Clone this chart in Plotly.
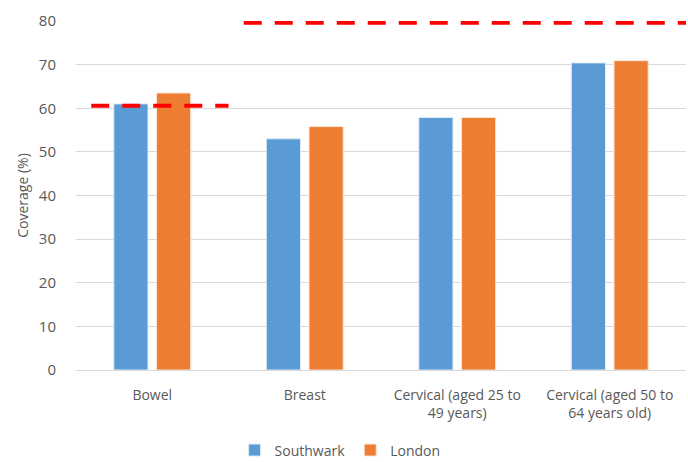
import plotly.graph_objects as go

categories = ["Bowel", "Breast", "Cervical (aged 25 to<br>49 years)", "Cervical (aged 50 to<br>64 years old)"]
southwark = [61.0, 53.0, 57.9, 70.4]
london = [63.5, 55.8, 57.9, 70.9]
target_bowel_x = [-0.4, 0.5]
target_bowel_y = [60.6, 60.6]
target_other_x = [0.6, 3.5]
target_other_y = [79.6, 79.6]
yticks = [0, 10, 20, 30, 40, 50, 60, 70, 80]

font = dict(family="Open Sans, Liberation Sans, sans-serif", size=14, color="#595959")

fig = go.Figure()
fig.add_trace(go.Bar(name="Southwark", x=categories, y=southwark,
                     marker=dict(color="#5B9BD5", line=dict(color="#DDEBF7", width=1))))
fig.add_trace(go.Bar(name="London", x=categories, y=london,
                     marker=dict(color="#ED7D31", line=dict(color="#FBE5D6", width=1))))
for xs, ys in [(target_bowel_x, target_bowel_y), (target_other_x, target_other_y)]:
    fig.add_trace(go.Scatter(x=xs, y=ys, xaxis="x2", mode="lines", showlegend=False,
                             line=dict(color="#FF0000", width=4, dash="18px,13px"),
                             hoverinfo="skip"))

fig.update_layout(
    width=688, height=462,
    margin=dict(l=76, r=2, t=21, b=92, autoexpand=False),
    plot_bgcolor="white", paper_bgcolor="white",
    font=font,
    barmode="group", bargap=0.44, bargroupgap=0.2,
    xaxis=dict(type="category", showgrid=False, showline=True, linecolor="#D9D9D9",
               ticks="outside", ticklen=12, tickcolor="rgba(0,0,0,0)",
               tickfont=dict(size=14), range=[-0.5, 3.5], automargin=False),
    xaxis2=dict(overlaying="x", range=[-0.5, 3.5], visible=False),
    yaxis=dict(range=[0, 80], tickvals=yticks, showgrid=True, gridcolor="#D9D9D9",
               zeroline=False, showline=False, tickfont=dict(size=15), automargin=False,
               ticks="outside", ticklen=16, tickcolor="rgba(0,0,0,0)",
               title=dict(text="Coverage (%)", font=dict(size=14), standoff=6)),
    legend=dict(orientation="h", x=0.26, xanchor="left", y=0.025, yanchor="middle",
                yref="container", font=dict(size=14), itemwidth=30, tracegroupgap=0),
)

fig.write_html("out.html")
